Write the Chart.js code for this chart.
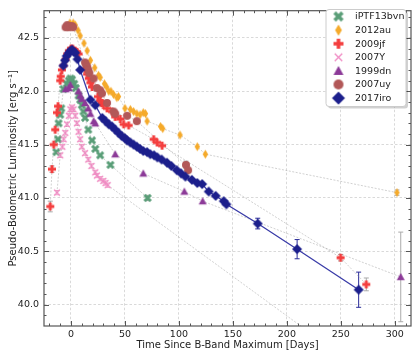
<!DOCTYPE html>
<html>
<head>
<meta charset="utf-8">
<script src="https://cdn.jsdelivr.net/npm/chart.js@4.4.1/dist/chart.umd.min.js"></script>
<style>
  html, body { margin: 0; padding: 0; background: #fff; }
  #wrap { width: 416px; height: 356px; }
</style>
</head>
<body>
<div id="wrap"><canvas id="lc" width="416" height="356"></canvas></div>
<script>
// ---- data (days since B max, log L) ----
const xTicks = [0, 50, 100, 150, 200, 250, 300];
const yTicks = [40.0, 40.5, 41.0, 41.5, 42.0, 42.5];

const bvnDays = [-13.5, -12, -11.5, -10, -9, -7, -4, -2, -0.5, 1, 3, 4.5, 7, 8.5, 10, 11.5, 13, 16, 19.5, 22.5, 27, 36.5, 71];
const bvnLum  = [41.43, 41.55, 41.70, 41.78, 41.84, 42.02, 42.07, 42.10, 42.12, 42.11, 42.07, 42.03, 41.96, 41.92, 41.87, 41.81, 41.75, 41.64, 41.54, 41.46, 41.40, 41.31, 41.00];
const bvnErr  = [0, 0, 0, 0, 0, 0, 0, 0, 0, 0, 0, 0, 0, 0, 0, 0, 0, 0, 0, 0, 0, 0, 0.025];

const au12Days = [-1, 2, 4, 6.5, 8.5, 12, 15, 18, 22, 25.5, 27, 31, 33, 35, 37, 39.5, 42.5, 44, 50, 55, 58, 61, 64, 67, 69, 70.5, 83, 85, 101, 117, 124.5, 302];
const au12Lum  = [42.64, 42.64, 42.62, 42.57, 42.52, 42.45, 42.38, 42.29, 42.22, 42.15, 42.13, 42.07, 42.04, 42.00, 42.00, 41.97, 41.94, 41.95, 41.84, 41.83, 41.81, 41.79, 41.78, 41.80, 41.79, 41.72, 41.67, 41.65, 41.59, 41.48, 41.41, 41.05];
const au12Err  = [0, 0, 0, 0, 0, 0, 0, 0, 0, 0, 0, 0, 0, 0, 0, 0, 0, 0, 0, 0, 0, 0, 0, 0, 0, 0, 0, 0, 0, 0, 0, 0.025];

const jf09Days = [-19.2, -17.6, -16, -14.6, -13, -12, -10, -9.5, -8.4, -7, -5, -3.5, -2, 0, 1.5, 3.7, 5.5, 7, 13, 15, 16.5, 18, 19.5, 25, 27, 28.7, 30, 33.4, 38, 41, 45.7, 48.8, 53.4, 76.6, 79.8, 84.4, 249.8, 273.6];
const jf09Lum  = [40.92, 41.27, 41.50, 41.64, 41.80, 41.86, 42.10, 42.14, 42.20, 42.24, 42.30, 42.35, 42.38, 42.40, 42.40, 42.38, 42.37, 42.35, 42.21, 42.16, 42.12, 42.08, 42.04, 41.95, 41.91, 41.89, 41.87, 41.84, 41.81, 41.76, 41.74, 41.69, 41.68, 41.55, 41.52, 41.49, 40.44, 40.19];
const jf09Err  = [0.05, 0.03, 0, 0, 0, 0, 0, 0, 0, 0, 0, 0, 0, 0, 0, 0, 0, 0, 0, 0, 0, 0, 0, 0, 0, 0, 0, 0, 0, 0, 0, 0, 0, 0, 0, 0, 0.03, 0.06];

const y07Days = [-13, -10, -8, -6.8, -5.3, -3.7, -2, -0.6, 1, 2.4, 4, 5.5, 7, 8.5, 10, 13, 16, 19, 22.5, 24, 27, 30, 32, 34, 240];
const y07Lum  = [41.05, 41.40, 41.48, 41.55, 41.61, 41.69, 41.77, 41.83, 41.85, 41.83, 41.77, 41.70, 41.62, 41.55, 41.48, 41.42, 41.36, 41.30, 41.24, 41.21, 41.18, 41.16, 41.14, 41.12, 39.60];
const y07Err  = [0.02, 0.02, 0.02, 0.02, 0.02, 0.02, 0.02, 0.02, 0.02, 0.02, 0.02, 0.02, 0.02, 0.02, 0.02, 0.02, 0.02, 0.02, 0.02, 0.02, 0.02, 0.02, 0.02, 0.02, 0.02];

const dn99Days = [-5, -2, -0.6, 7, 8.6, 10, 13, 16, 18, 21, 22.5, 41, 67, 105, 122, 305.5];
const dn99Lum  = [42.02, 42.03, 42.06, 42.00, 41.96, 41.93, 41.89, 41.84, 41.79, 41.72, 41.70, 41.41, 41.23, 41.06, 40.97, 40.26];
const dn99Err  = [0, 0, 0, 0, 0, 0, 0, 0, 0, 0, 0, 0, 0, 0, 0, 0.42];

const uy07Days = [-5, -3.5, -2, -0.5, 1, 2, 13, 14, 15, 16, 17, 21, 24, 27, 28.7, 33.4, 39.5, 41, 52, 61, 106.5, 108.5];
const uy07Lum  = [42.60, 42.62, 42.60, 42.61, 42.61, 42.60, 42.27, 42.25, 42.23, 42.20, 42.17, 42.12, 42.03, 42.01, 41.98, 41.89, 41.81, 41.79, 41.77, 41.72, 41.31, 41.26];
const uy07Err  = [0, 0, 0, 0, 0, 0, 0, 0, 0, 0, 0, 0, 0, 0, 0, 0, 0, 0, 0, 0, 0.035, 0];

const iroDays = [-7, -5.5, -4, -2, -0.5, 1, 2.5, 4, 6, 8.5, 18, 22.5, 29, 32, 35, 38, 41, 44, 47, 50, 52, 55, 58, 61, 64, 67, 70.5, 73.5, 77, 80, 84, 89, 93, 98, 102, 106, 112, 117, 121.5, 127.6, 134, 141.5, 144, 173, 209.5, 266.5];
const iroLum  = [42.24, 42.29, 42.33, 42.36, 42.38, 42.39, 42.37, 42.36, 42.30, 42.20, 41.92, 41.87, 41.75, 41.72, 41.69, 41.67, 41.64, 41.61, 41.58, 41.56, 41.54, 41.52, 41.50, 41.48, 41.46, 41.44, 41.43, 41.41, 41.40, 41.38, 41.36, 41.33, 41.30, 41.26, 41.23, 41.20, 41.17, 41.14, 41.13, 41.06, 41.02, 40.97, 40.94, 40.76, 40.52, 40.14];
const iroErr  = iroDays.map((d, i) => [0.05, 0.09, 0.165][[173, 209.5, 266.5].indexOf(d)] || 0);

// ---- styles ----
const series = [
  { label: 'iPTF13bvn', days: bvnDays,  lum: bvnLum,  err: bvnErr,  color: '#5a9e78', shape: 'X', size: 8,  ecol: '#aaaaaa' },
  { label: '2012au',    days: au12Days, lum: au12Lum, err: au12Err, color: '#f5aa2a', shape: 'd', size: 9,  ecol: '#aaaaaa' },
  { label: '2009jf',    days: jf09Days, lum: jf09Lum, err: jf09Err, color: '#f43e3e', shape: 'P', size: 8,  ecol: '#aaaaaa' },
  { label: '2007Y',     days: y07Days,  lum: y07Lum,  err: y07Err,  color: '#f08cc4', shape: 'x', size: 6,  ecol: '#f0a0c8' },
  { label: '1999dn',    days: dn99Days, lum: dn99Lum, err: dn99Err, color: '#8c3a98', shape: '^', size: 8,  ecol: '#aaaaaa' },
  { label: '2007uy',    days: uy07Days, lum: uy07Lum, err: uy07Err, color: '#b25858', shape: 'o', size: 8,  ecol: '#aaaaaa' },
  { label: '2017iro',   days: iroDays,  lum: iroLum,  err: iroErr,  color: '#1c1f8c', shape: 'D', size: 10, ecol: '#2a2c99' },
];

function makeMarker(shape, color, s, k) {
  k = k || 1;
  const size = Math.ceil(s * k * 1.2) + 2;
  const c = document.createElement('canvas');
  c.width = c.height = size;
  const g = c.getContext('2d');
  g.translate(size / 2, size / 2);
  g.scale(k, k);
  g.fillStyle = color;
  g.strokeStyle = color;
  const r = s / 2;
  g.beginPath();
  if (shape === 'X' || shape === 'P') {
    const t = r * 0.36;
    const a = shape === 'X' ? r * 1.1 : r;
    if (shape === 'X') g.rotate(Math.PI / 4);
    const p = [[-t,-a],[t,-a],[t,-t],[a,-t],[a,t],[t,t],[t,a],[-t,a],[-t,t],[-a,t],[-a,-t],[-t,-t]];
    p.forEach((q, i) => i ? g.lineTo(q[0], q[1]) : g.moveTo(q[0], q[1]));
    g.closePath();
    g.fill();
  } else if (shape === 'd' || shape === 'D') {
    const w = shape === 'd' ? r * 0.6 : r;
    g.moveTo(0, -r); g.lineTo(w, 0); g.lineTo(0, r); g.lineTo(-w, 0);
    g.closePath();
    g.fill();
  } else if (shape === 'x') {
    g.lineWidth = 1.1;
    g.moveTo(-r, -r); g.lineTo(r, r);
    g.moveTo(r, -r); g.lineTo(-r, r);
    g.stroke();
  } else if (shape === '^') {
    g.moveTo(0, -r); g.lineTo(r, r * 0.8); g.lineTo(-r, r * 0.8);
    g.closePath();
    g.fill();
  } else {
    g.arc(0, 0, r, 0, Math.PI * 2);
    g.fill();
  }
  return c;
}

const datasets = [];
series.forEach((s, i) => {
  const pts = s.days.map((d, j) => ({ x: d, y: s.lum[j] }));
  const isIro = s.label === '2017iro';
  // connecting line
  datasets.push({
    data: pts,
    showLine: true,
    pointRadius: 0,
    borderColor: isIro ? '#3a3ca8' : 'rgba(150,150,150,0.55)',
    borderWidth: isIro ? 1.3 : 0.8,
    borderDash: isIro ? [] : [2, 1.5],
    order: isIro ? 0.5 : 20 + i,
  });
  // markers
  datasets.push({
    label: s.label,
    data: pts,
    showLine: false,
    pointStyle: makeMarker(s.shape, s.color, s.size),
    errs: s.err,
    ecol: s.ecol,
    order: 6 - i,
  });
});

const errorBars = {
  id: 'errorBars',
  beforeDatasetsDraw(chart) {
    const { ctx, scales: { x, y }, chartArea: a } = chart;
    ctx.save();
    ctx.beginPath();
    ctx.rect(a.left, a.top, a.width, a.height);
    ctx.clip();
    chart.data.datasets.forEach(ds => {
      if (!ds.errs) return;
      ctx.strokeStyle = ds.ecol;
      ctx.lineWidth = 1;
      ds.data.forEach((p, j) => {
        const e = ds.errs[j];
        if (!e) return;
        const px = x.getPixelForValue(p.x);
        const y1 = y.getPixelForValue(p.y + e);
        const y2 = y.getPixelForValue(p.y - e);
        ctx.beginPath();
        ctx.moveTo(px, y1); ctx.lineTo(px, y2);
        ctx.moveTo(px - 2.5, y1); ctx.lineTo(px + 2.5, y1);
        ctx.moveTo(px - 2.5, y2); ctx.lineTo(px + 2.5, y2);
        ctx.stroke();
      });
    });
    ctx.restore();
  }
};

const frame = {
  id: 'frame',
  afterDraw(chart) {
    const { ctx, chartArea: a, scales: { x, y } } = chart;
    ctx.save();
    ctx.strokeStyle = '#555';
    ctx.lineWidth = 1;
    const seg = (x1, y1, x2, y2) => { ctx.beginPath(); ctx.moveTo(x1, y1); ctx.lineTo(x2, y2); ctx.stroke(); };
    for (let k = -2; k <= 31; k++) {
      const px = Math.round(x.getPixelForValue(k * 10)) + 0.5;
      if (px < a.left || px > a.right) continue;
      const len = k % 5 === 0 ? 5 : 2.5;
      seg(px, a.bottom, px, a.bottom - len);
      seg(px, a.top, px, a.top + len);
    }
    for (let k = 398; k <= 427; k++) {
      const py = Math.round(y.getPixelForValue(k / 10)) + 0.5;
      if (py < a.top || py > a.bottom) continue;
      const len = k % 5 === 0 ? 5 : 2.5;
      seg(a.left, py, a.left + len, py);
      seg(a.right, py, a.right - len, py);
    }
    ctx.lineWidth = 1.2;
    ctx.strokeRect(a.left, a.top, a.width, a.height);

    // legend box (with a soft shadow like the original)
    const bx = 326, by = 9.5, bw = 80, bh = 97;
    ctx.beginPath();
    ctx.roundRect(bx + 2, by + 2, bw, bh, 3);
    ctx.fillStyle = 'rgba(0,0,0,0.18)';
    ctx.fill();
    ctx.beginPath();
    ctx.roundRect(bx, by, bw, bh, 3);
    ctx.fillStyle = '#ffffff';
    ctx.fill();
    ctx.strokeStyle = '#cccccc';
    ctx.lineWidth = 1;
    ctx.stroke();
    ctx.font = '9.5px "DejaVu Sans"';
    ctx.textBaseline = 'middle';
    ctx.fillStyle = '#222';
    series.forEach((s, i) => {
      const cy = 16.5 + i * 13.6;
      const m = makeMarker(s.shape, s.color, s.size, s.shape === 'D' ? 1.3 : 1.25);
      ctx.drawImage(m, 338.5 - m.width / 2, cy - m.height / 2);
      ctx.fillText(s.label, 355, cy + 0.5);
    });
    ctx.restore();
  }
};

new Chart(document.getElementById('lc'), {
  type: 'scatter',
  data: { datasets },
  plugins: [errorBars, frame],
  options: {
    responsive: false,
    animation: false,
    layout: { padding: { top: 5, right: 5, left: 0, bottom: 0 } },
    plugins: { legend: { display: false }, tooltip: { enabled: false } },
    scales: {
      x: {
        type: 'linear',
        min: -25, max: 315,
        afterBuildTicks: s => { s.ticks = xTicks.map(v => ({ value: v })); },
        afterFit: s => { s.height = 30; },
        grid: { color: '#cfcfcf', lineWidth: 0.8, drawTicks: false },
        border: { display: false, dash: [2.5, 2] },
        ticks: { padding: 3, color: '#222', font: { family: 'DejaVu Sans', size: 9.5 }, maxRotation: 0 },
        title: { display: true, text: 'Time Since B-Band Maximum [Days]', color: '#222', padding: { top: 0, bottom: 5 }, font: { family: 'DejaVu Sans', size: 10 } },
      },
      y: {
        type: 'linear',
        min: 39.8, max: 42.755,
        afterBuildTicks: s => { s.ticks = yTicks.map(v => ({ value: v })); },
        afterFit: s => { s.width = 44; },
        grid: { color: '#cfcfcf', lineWidth: 0.8, drawTicks: false },
        border: { display: false, dash: [2.5, 2] },
        ticks: { padding: 5, color: '#222', font: { family: 'DejaVu Sans', size: 9.5 }, callback: v => v.toFixed(1) },
        title: { display: true, text: 'Pseudo-Bolometric Luminosity [erg s\u207B\u00B9]', color: '#222', padding: { top: 7, bottom: 0 }, font: { family: 'DejaVu Sans', size: 10 } },
      },
    },
  },
});
</script>
</body>
</html>
